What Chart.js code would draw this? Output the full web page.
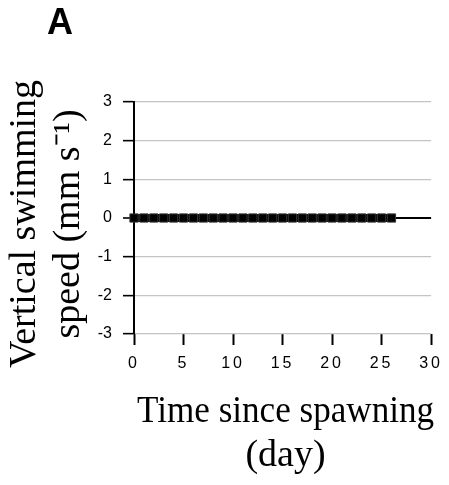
<!DOCTYPE html>
<html>
<head>
<meta charset="utf-8">
<script src="https://cdn.jsdelivr.net/npm/chart.js@4"></script>
<style>
  html, body { margin: 0; padding: 0; background: #fff; }
  #wrap { width: 449px; height: 485px; position: relative; }
</style>
</head>
<body>
<div id="wrap"><canvas id="c"></canvas></div>
<script>
// Data
const days  = [0, 1, 2, 3, 4, 5, 6, 7, 8, 9, 10, 11, 12, 13, 14, 15, 16, 17, 18, 19, 20, 21, 22, 23, 24, 25, 26];
const speed = [0, 0, 0, 0, 0, 0, 0, 0, 0, 0, 0, 0, 0, 0, 0, 0, 0, 0, 0, 0, 0, 0, 0, 0, 0, 0, 0];
const xRange = [0, 30];
const xStep = 5;
const yRange = [-3, 3];
const yStep = 1;
const panelLabel = 'A';
const xTitle = ['Time since spawning', '(day)'];
const yTitle = ['Vertical swimming', 'speed (mm s\u207B\u00B9)'];

const panelLabelPlugin = {
  id: 'panelLabel',
  afterDraw(chart) {
    const ctx = chart.ctx;
    ctx.save();
    ctx.font = 'bold 36px "Liberation Sans", Arial, sans-serif';
    ctx.fillStyle = '#000';
    ctx.textAlign = 'left';
    ctx.textBaseline = 'alphabetic';
    ctx.fillText(panelLabel, 47, 34);
    ctx.restore();
  }
};

// letter-spaced x tick labels and small title offsets as in the reference
const scaleTweaksPlugin = {
  id: 'scaleTweaks',
  beforeDraw(chart) {
    const sx = chart.scales.x, sy = chart.scales.y;
    if (sx && !sx._tweaked) {
      const origL = sx.drawLabels;
      sx.drawLabels = function (a) {
        const c = this.ctx;
        c.save();
        c.letterSpacing = '3px';
        origL.call(this, a);
        c.restore();
      };
      const origT = sx.drawTitle;
      sx.drawTitle = function () {
        const c = this.ctx;
        c.save();
        c.translate(3, 0);
        origT.call(this);
        c.restore();
      };
      sx._tweaked = true;
    }
    if (sy && !sy._tweaked) {
      const origT = sy.drawTitle;
      sy.drawTitle = function () {
        const c = this.ctx;
        c.save();
        c.translate(0, 6);
        origT.call(this);
        c.restore();
      };
      sy._tweaked = true;
    }
  }
};

new Chart(document.getElementById('c'), {
  type: 'line',
  data: {
    datasets: [{
      data: days.map((d, i) => ({ x: d, y: speed[i] })),
      borderColor: '#000',
      borderWidth: 8,
      pointStyle: 'rect',
      pointRadius: 5.8,
      pointBackgroundColor: '#000',
      pointBorderColor: '#333',
      pointBorderWidth: 1,
      clip: false,
      tension: 0
    }]
  },
  options: {
    responsive: true,
    maintainAspectRatio: false,
    animation: false,
    devicePixelRatio: 1,
    layout: { padding: { top: 102, right: 16, left: 0, bottom: 0 } },
    plugins: {
      legend: { display: false },
      tooltip: { enabled: false },
      title: { display: false }
    },
    scales: {
      x: {
        type: 'linear',
        min: xRange[0],
        max: xRange[1],
        afterFit(s) { s.height = 151; },
        ticks: {
          stepSize: xStep,
          color: '#000',
          padding: 9,
          maxRotation: 0,
          font: { family: '"Liberation Sans", Arial, sans-serif', size: 16 }
        },
        grid: {
          drawOnChartArea: false,
          drawTicks: true,
          tickLength: 11,
          tickColor: '#000',
          tickWidth: 2
        },
        border: { display: false },
        title: {
          display: true,
          text: xTitle,
          color: '#000',
          font: { family: '"Liberation Serif", "Times New Roman", serif', size: 38, lineHeight: 1.16 },
          padding: { top: 0, bottom: 6.8 }
        }
      },
      y: {
        type: 'linear',
        min: yRange[0],
        max: yRange[1],
        afterFit(s) { s.width = 134; },
        ticks: {
          stepSize: yStep,
          color: '#000',
          padding: 11,
          font: { family: '"Liberation Sans", Arial, sans-serif', size: 16 }
        },
        grid: {
          color: (c) => (c.tick && c.tick.value === 0 ? '#000' : '#c4c4c4'),
          lineWidth: (c) => (c.tick && c.tick.value === 0 ? 2 : 1.3),
          tickLength: 11,
          tickColor: '#000',
          tickWidth: 1.6
        },
        border: { display: true, color: '#000', width: 2 },
        title: {
          display: true,
          text: yTitle,
          color: '#000',
          font: { family: '"Liberation Serif", "Times New Roman", serif', size: 38, lineHeight: 1.16 },
          padding: { top: 3.2, bottom: 0 }
        }
      }
    }
  },
  plugins: [panelLabelPlugin, scaleTweaksPlugin]
});
</script>
</body>
</html>
